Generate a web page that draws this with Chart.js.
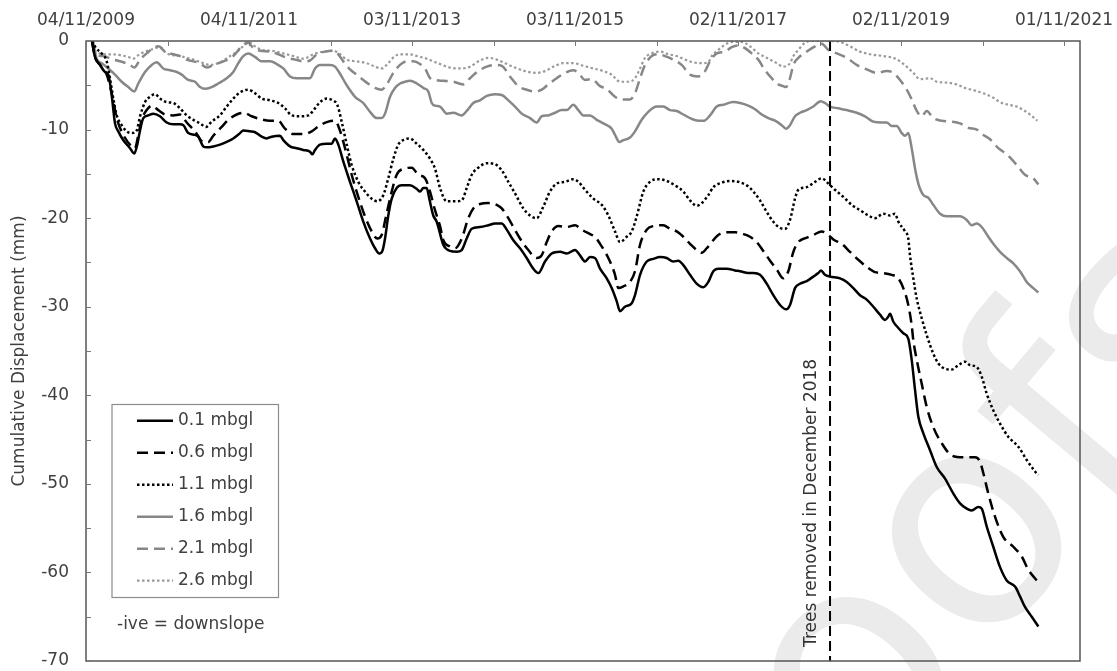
<!DOCTYPE html>
<html>
<head>
<meta charset="utf-8">
<script src="https://cdn.jsdelivr.net/npm/chart.js@4.4.1/dist/chart.umd.min.js"></script>
<style>
html,body{margin:0;padding:0;background:#fff;}
#wrap{width:1117px;height:671px;position:relative;}
</style>
</head>
<body>
<div id="wrap"><canvas id="c" width="1117" height="671"></canvas></div>
<script>
// ---------- DATA (dates as decimal years, displacement in mm) ----------
const startYear = 2009.841;   // 04/11/2009
const endYear = 2022.037;
const xTickLabels = ['04/11/2009','','04/11/2011','','03/11/2013','','03/11/2015','','02/11/2017','','02/11/2019','','01/11/2021'];
const yTickVals = [0,-5,-10,-15,-20,-25,-30,-35,-40,-45,-50,-55,-60,-65,-70];
const seriesNames = ['0.1 mbgl','0.6 mbgl','1.1 mbgl','1.6 mbgl','2.1 mbgl','2.6 mbgl'];
const treesRemovedYear = 2018.97;
const treesLabel = 'Trees removed in December 2018';
const yTitle = 'Cumulative Displacement (mm)';
const noteText = '-ive = downslope';
const watermarkText = 'Journal Pre-proofs';

const t01 = [2009.915,2009.951,2010.013,2010.074,2010.115,2010.156,2010.197,2010.237,2010.299,2010.381,
2010.434,2010.470,2010.504,2010.544,2010.605,2010.667,2010.749,2010.831,2010.912,2010.994,
2011.035,2011.096,2011.178,2011.219,2011.280,2011.322,2011.403,2011.485,2011.567,2011.648,
2011.731,2011.771,2011.853,2011.915,2011.997,2012.058,2012.120,2012.221,2012.262,2012.344,
2012.426,2012.507,2012.589,2012.618,2012.651,2012.712,2012.794,2012.856,2012.896,2012.937,
2012.998,2013.080,2013.162,2013.243,2013.326,2013.387,2013.440,2013.481,2013.510,2013.550,
2013.592,2013.653,2013.715,2013.816,2013.899,2013.939,2013.980,2014.021,2014.053,2014.102,
2014.144,2014.225,2014.307,2014.389,2014.451,2014.512,2014.574,2014.675,2014.777,2014.859,
2014.942,2015.003,2015.084,2015.166,2015.248,2015.329,2015.391,2015.473,2015.555,2015.657,
2015.739,2015.841,2015.902,2015.964,2016.025,2016.086,2016.148,2016.230,2016.291,2016.353,
2016.393,2016.454,2016.537,2016.577,2016.639,2016.721,2016.802,2016.884,2016.966,2017.047,
2017.109,2017.170,2017.252,2017.334,2017.415,2017.477,2017.538,2017.599,2017.702,2017.804,
2017.866,2017.967,2018.029,2018.111,2018.193,2018.274,2018.356,2018.430,2018.479,2018.540,
2018.602,2018.684,2018.765,2018.826,2018.859,2018.908,2018.970,2019.093,2019.175,2019.256,
2019.338,2019.420,2019.501,2019.583,2019.645,2019.685,2019.706,2019.747,2019.808,2019.869,
2019.930,2019.972,2020.013,2020.053,2020.115,2020.197,2020.279,2020.381,2020.483,2020.565,
2020.647,2020.708,2020.789,2020.831,2020.892,2020.973,2021.056,2021.138,2021.240,2021.301,
2021.362,2021.445,2021.526];
const v01 = [0,-1.8,-2.7,-3.5,-3.8,-6.1,-9.3,-10.2,-11.2,-12.1,
-12.7,-11.7,-10.1,-8.7,-8.4,-8.2,-8.5,-9.2,-9.4,-9.4,
-9.5,-10.4,-10.6,-10.8,-11.9,-12.0,-11.9,-11.7,-11.4,-11.0,
-10.4,-10.1,-10.2,-10.3,-10.8,-11.0,-10.8,-10.7,-11.2,-11.9,
-12.1,-12.3,-12.5,-12.8,-12.3,-11.7,-11.6,-11.6,-11.0,-11.7,
-13.6,-15.9,-18.1,-20.4,-22.3,-23.4,-24.0,-23.6,-22.3,-19.7,
-17.8,-16.6,-16.3,-16.3,-16.7,-17.0,-16.6,-16.6,-17.8,-19.7,
-20.4,-23.0,-23.7,-23.8,-23.6,-22.3,-21.2,-21.0,-20.8,-20.6,
-20.6,-21.3,-22.5,-23.4,-24.5,-25.7,-26.2,-24.9,-24.0,-23.8,
-24.0,-23.6,-24.2,-24.9,-24.4,-24.5,-25.7,-26.8,-27.9,-29.4,
-30.5,-30.0,-29.6,-28.7,-26.4,-24.9,-24.6,-24.4,-24.5,-24.9,
-24.8,-25.3,-26.4,-27.4,-27.8,-27.2,-26.0,-25.7,-25.7,-25.9,
-26.0,-26.2,-26.2,-26.4,-27.4,-28.7,-29.8,-30.3,-29.8,-27.9,
-27.4,-27.1,-26.6,-26.2,-25.9,-26.4,-26.6,-26.8,-27.2,-27.9,
-28.7,-29.2,-30.0,-30.9,-31.5,-31.1,-30.8,-31.7,-32.4,-33.0,
-33.6,-36.0,-39.4,-42.4,-44.3,-46.2,-48.1,-49.4,-51.1,-52.2,
-52.8,-53.0,-52.6,-52.8,-54.8,-57.1,-59.4,-60.9,-61.6,-62.7,
-63.9,-65.0,-66.1];

const t06 = [2009.915,2009.951,2010.013,2010.095,2010.156,2010.218,2010.299,2010.402,2010.442,2010.483,
2010.524,2010.586,2010.647,2010.728,2010.810,2010.912,2010.994,2011.077,2011.178,2011.280,
2011.342,2011.403,2011.506,2011.587,2011.690,2011.780,2011.874,2011.976,2012.099,2012.201,
2012.283,2012.385,2012.507,2012.610,2012.712,2012.814,2012.896,2012.949,2013.019,2013.101,
2013.182,2013.264,2013.347,2013.415,2013.469,2013.522,2013.592,2013.653,2013.755,2013.837,
2013.918,2014.001,2014.062,2014.123,2014.185,2014.225,2014.307,2014.369,2014.451,2014.532,
2014.593,2014.675,2014.777,2014.880,2014.942,2015.023,2015.084,2015.166,2015.268,2015.371,
2015.432,2015.494,2015.555,2015.636,2015.739,2015.841,2015.923,2016.025,2016.086,2016.148,
2016.209,2016.270,2016.332,2016.372,2016.434,2016.516,2016.577,2016.639,2016.721,2016.802,
2016.924,2017.007,2017.089,2017.170,2017.252,2017.334,2017.396,2017.457,2017.518,2017.599,
2017.702,2017.804,2017.906,2017.988,2018.070,2018.151,2018.234,2018.316,2018.397,2018.458,
2018.520,2018.581,2018.684,2018.765,2018.868,2018.949,2019.010,2019.113,2019.215,2019.317,
2019.420,2019.522,2019.624,2019.727,2019.808,2019.869,2019.930,2019.972,2019.992,2020.034,
2020.095,2020.156,2020.237,2020.340,2020.463,2020.605,2020.749,2020.810,2020.851,2020.912,
2020.994,2021.096,2021.219,2021.322,2021.403,2021.506];
const v06 = [0,-1.8,-2.7,-3.8,-5.9,-8.7,-10.6,-11.9,-12.1,-10.6,
-8.9,-7.8,-7.3,-7.8,-8.3,-8.4,-8.3,-9.2,-10.2,-11.4,
-11.4,-10.7,-9.7,-8.9,-8.3,-8.1,-8.5,-8.8,-9.0,-9.0,
-9.9,-10.5,-10.5,-10.2,-9.5,-9.1,-9.0,-9.9,-12.1,-15.1,
-17.6,-19.8,-21.5,-22.3,-21.9,-19.8,-17.0,-15.1,-14.4,-14.3,
-15.1,-15.5,-17.0,-19.1,-20.9,-22.5,-23.2,-23.4,-22.3,-20.0,
-18.9,-18.4,-18.3,-18.5,-18.9,-20.0,-21.0,-22.3,-23.6,-24.5,
-24.2,-22.7,-21.5,-20.9,-21.0,-20.8,-21.3,-21.8,-22.1,-22.9,
-23.8,-24.9,-26.4,-27.9,-27.7,-27.2,-26.0,-23.0,-21.3,-20.9,
-20.8,-21.2,-21.5,-22.1,-22.9,-23.6,-23.9,-23.4,-22.7,-21.9,
-21.6,-21.6,-21.8,-22.1,-22.7,-23.7,-24.8,-25.8,-26.8,-26.0,
-23.8,-22.7,-22.2,-21.9,-21.5,-21.9,-22.4,-22.9,-23.8,-24.7,
-25.5,-26.1,-26.2,-26.4,-26.8,-27.9,-29.8,-32.1,-33.8,-36.0,
-38.7,-41.3,-43.6,-45.4,-46.8,-47.0,-47.0,-47.5,-48.8,-51.1,
-53.7,-56.0,-57.1,-58.2,-59.7,-60.9];

const t11 = [2009.915,2009.964,2010.034,2010.095,2010.135,2010.176,2010.218,2010.279,2010.340,2010.402,
2010.463,2010.504,2010.565,2010.626,2010.688,2010.749,2010.831,2010.912,2010.994,2011.077,
2011.158,2011.240,2011.313,2011.383,2011.485,2011.567,2011.648,2011.731,2011.832,2011.915,
2011.997,2012.099,2012.201,2012.283,2012.365,2012.467,2012.569,2012.651,2012.712,2012.794,
2012.868,2012.924,2012.978,2013.040,2013.101,2013.182,2013.264,2013.347,2013.415,2013.489,
2013.550,2013.612,2013.673,2013.755,2013.816,2013.899,2013.980,2014.062,2014.123,2014.185,
2014.267,2014.369,2014.451,2014.512,2014.574,2014.654,2014.758,2014.859,2014.942,2015.023,
2015.105,2015.207,2015.289,2015.371,2015.452,2015.534,2015.616,2015.718,2015.820,2015.882,
2015.964,2016.066,2016.169,2016.250,2016.332,2016.393,2016.475,2016.537,2016.598,2016.679,
2016.761,2016.863,2016.966,2017.068,2017.170,2017.252,2017.334,2017.396,2017.477,2017.538,
2017.641,2017.743,2017.845,2017.948,2018.029,2018.111,2018.193,2018.274,2018.356,2018.418,
2018.479,2018.540,2018.581,2018.684,2018.786,2018.868,2018.949,2019.031,2019.133,2019.236,
2019.338,2019.440,2019.522,2019.624,2019.706,2019.767,2019.808,2019.890,2019.930,2019.951,
2019.992,2020.034,2020.095,2020.156,2020.237,2020.299,2020.381,2020.463,2020.544,2020.626,
2020.688,2020.770,2020.831,2020.892,2020.973,2021.056,2021.158,2021.280,2021.383,2021.485,
2021.526];
const v11 = [0,-0.8,-1.4,-2.3,-4.2,-6.5,-8.4,-9.5,-10.2,-10.4,
-10.1,-8.5,-6.9,-6.3,-6.0,-6.5,-6.9,-7.0,-7.6,-8.4,
-8.9,-9.3,-9.7,-9.1,-8.4,-7.4,-6.5,-5.8,-5.5,-5.9,
-6.5,-6.7,-7.0,-7.6,-8.4,-8.5,-8.4,-7.6,-6.9,-6.5,
-6.7,-7.2,-9.1,-11.7,-14.0,-15.9,-17.0,-17.8,-18.1,-17.4,
-15.5,-13.3,-11.7,-11.1,-11.0,-11.6,-12.3,-13.3,-14.4,-16.6,
-18.1,-18.1,-18.0,-16.6,-15.1,-14.3,-13.8,-13.9,-14.6,-15.9,
-17.2,-18.9,-19.7,-20.0,-18.7,-17.0,-16.1,-15.9,-15.6,-15.9,
-16.8,-17.8,-18.5,-19.7,-21.5,-22.7,-22.1,-21.5,-19.8,-17.0,
-15.9,-15.6,-15.8,-16.3,-17.0,-18.0,-18.6,-18.3,-17.4,-16.5,
-16.0,-15.8,-15.9,-16.3,-17.0,-18.0,-19.3,-20.4,-21.1,-21.2,
-20.2,-17.8,-16.8,-16.5,-15.9,-15.5,-16.1,-16.8,-17.6,-18.5,
-19.1,-19.7,-20.0,-19.5,-19.7,-19.5,-20.4,-21.5,-22.3,-24.2,
-26.8,-29.1,-31.3,-33.2,-35.3,-36.4,-37.0,-37.1,-36.6,-36.2,
-36.6,-36.8,-37.9,-39.8,-41.7,-43.2,-44.7,-45.8,-47.3,-48.6,
-49.0];

const t16 = [2009.927,2009.972,2010.034,2010.115,2010.197,2010.279,2010.360,2010.434,2010.483,2010.565,
2010.647,2010.708,2010.789,2010.872,2010.954,2011.015,2011.096,2011.178,2011.240,2011.301,
2011.383,2011.464,2011.567,2011.648,2011.710,2011.771,2011.832,2011.915,2011.997,2012.099,
2012.181,2012.262,2012.344,2012.426,2012.589,2012.651,2012.712,2012.835,2012.896,2012.958,
2013.040,2013.142,2013.243,2013.326,2013.408,2013.469,2013.510,2013.571,2013.632,2013.694,
2013.755,2013.816,2013.899,2013.980,2014.041,2014.083,2014.123,2014.185,2014.267,2014.348,
2014.451,2014.512,2014.593,2014.675,2014.758,2014.859,2014.942,2015.023,2015.105,2015.187,
2015.289,2015.371,2015.432,2015.513,2015.596,2015.678,2015.739,2015.820,2015.882,2015.943,
2016.025,2016.107,2016.188,2016.291,2016.332,2016.385,2016.434,2016.516,2016.577,2016.659,
2016.740,2016.843,2016.924,2017.007,2017.089,2017.170,2017.273,2017.354,2017.424,2017.497,
2017.580,2017.661,2017.783,2017.866,2017.967,2018.050,2018.132,2018.213,2018.295,2018.377,
2018.430,2018.479,2018.540,2018.602,2018.684,2018.765,2018.856,2018.908,2018.970,2019.072,
2019.175,2019.297,2019.399,2019.501,2019.604,2019.666,2019.727,2019.788,2019.850,2019.890,
2019.930,2019.972,2020.013,2020.053,2020.115,2020.176,2020.237,2020.320,2020.402,2020.565,
2020.647,2020.708,2020.770,2020.831,2020.912,2020.973,2021.056,2021.138,2021.219,2021.301,
2021.383,2021.464,2021.526];
const v16 = [0,-2.0,-2.5,-3.1,-3.8,-4.6,-5.2,-5.7,-4.8,-3.5,
-2.7,-2.4,-3.1,-3.3,-3.5,-3.8,-4.4,-4.6,-5.2,-5.4,
-5.2,-4.8,-4.2,-3.5,-2.5,-1.7,-1.4,-1.8,-2.3,-2.3,
-2.6,-3.1,-4.0,-4.2,-4.2,-3.1,-2.7,-2.7,-2.9,-3.7,
-5.0,-6.3,-7.0,-8.0,-8.7,-8.7,-8.2,-6.3,-5.3,-4.8,
-4.6,-4.5,-4.8,-5.3,-5.7,-7.0,-7.3,-7.4,-8.2,-8.1,
-8.4,-7.9,-7.0,-6.7,-6.2,-6.0,-6.1,-6.7,-7.4,-8.2,
-8.7,-9.2,-8.5,-8.4,-8.1,-7.8,-7.8,-7.2,-7.8,-8.4,
-8.4,-8.9,-9.3,-9.9,-10.6,-11.4,-11.2,-10.9,-10.2,-8.9,
-8.0,-7.4,-7.4,-7.8,-7.9,-8.3,-8.8,-9.0,-9.0,-8.4,
-7.4,-7.2,-6.9,-7.0,-7.3,-7.7,-8.3,-8.7,-9.0,-9.5,
-9.9,-9.5,-8.5,-8.1,-7.8,-7.4,-6.8,-7.0,-7.4,-7.6,
-7.8,-8.1,-8.5,-9.1,-9.2,-9.2,-9.6,-9.6,-10.4,-10.7,
-10.4,-12.1,-14.4,-16.1,-17.4,-17.7,-18.5,-19.5,-19.8,-19.8,
-20.2,-20.8,-20.6,-21.0,-22.1,-22.9,-23.8,-24.5,-25.1,-26.0,
-27.2,-27.9,-28.4];

const t21 = [2009.915,2009.951,2010.053,2010.176,2010.299,2010.381,2010.434,2010.504,2010.586,2010.667,
2010.728,2010.810,2010.912,2010.994,2011.077,2011.158,2011.240,2011.322,2011.403,2011.526,
2011.648,2011.771,2011.832,2011.894,2011.976,2012.099,2012.201,2012.304,2012.405,2012.507,
2012.589,2012.672,2012.774,2012.875,2012.937,2012.998,2013.080,2013.162,2013.285,2013.387,
2013.469,2013.531,2013.612,2013.694,2013.776,2013.857,2013.939,2014.001,2014.062,2014.123,
2014.225,2014.348,2014.470,2014.553,2014.654,2014.758,2014.859,2014.942,2015.043,2015.145,
2015.248,2015.350,2015.432,2015.513,2015.616,2015.718,2015.820,2015.882,2015.964,2016.046,
2016.148,2016.230,2016.332,2016.414,2016.516,2016.577,2016.639,2016.700,2016.782,2016.863,
2016.945,2017.047,2017.150,2017.252,2017.354,2017.436,2017.497,2017.580,2017.681,2017.764,
2017.845,2017.927,2018.009,2018.090,2018.172,2018.254,2018.335,2018.397,2018.430,2018.479,
2018.520,2018.581,2018.684,2018.786,2018.868,2018.949,2019.052,2019.175,2019.297,2019.420,
2019.543,2019.666,2019.747,2019.829,2019.911,2019.972,2020.034,2020.095,2020.156,2020.237,
2020.340,2020.463,2020.565,2020.667,2020.770,2020.851,2020.933,2021.035,2021.138,2021.261,
2021.362,2021.464,2021.526];
const v21 = [0,-1.4,-1.7,-2.1,-2.4,-2.7,-3.0,-2.1,-1.4,-0.8,
-0.6,-1.2,-1.5,-1.7,-2.1,-2.3,-2.5,-3.0,-2.7,-2.3,
-1.7,-0.4,-0.2,-0.8,-1.1,-1.2,-1.5,-1.9,-2.1,-2.3,
-2.2,-1.5,-1.2,-1.1,-1.5,-2.3,-3.2,-3.8,-4.7,-5.3,
-5.5,-4.9,-3.6,-2.7,-2.3,-2.3,-2.6,-3.1,-4.2,-4.4,
-4.5,-4.6,-4.9,-4.2,-3.4,-2.9,-2.7,-2.8,-4.0,-5.1,
-5.5,-5.7,-5.5,-4.9,-4.2,-3.6,-3.3,-3.6,-4.4,-4.3,
-5.1,-5.4,-6.3,-6.6,-6.6,-5.9,-4.2,-2.7,-1.7,-1.5,
-1.7,-2.1,-2.7,-3.8,-4.0,-3.4,-2.3,-1.4,-1.2,-0.7,
-0.5,-0.8,-1.4,-2.1,-3.3,-4.2,-4.9,-5.1,-5.2,-4.2,
-2.7,-1.9,-1.2,-0.6,-0.3,-1.0,-1.4,-1.9,-2.7,-3.2,
-3.6,-3.4,-3.6,-4.4,-5.5,-6.6,-7.9,-8.5,-7.9,-8.7,
-9.0,-9.1,-9.3,-9.8,-10.0,-10.6,-11.1,-12.1,-12.8,-14.0,
-15.1,-15.5,-16.2];

const t26 = [2009.915,2009.951,2010.013,2010.095,2010.176,2010.258,2010.360,2010.421,2010.483,2010.565,
2010.667,2010.749,2010.831,2010.994,2011.158,2011.280,2011.362,2011.485,2011.608,2011.710,
2011.792,2011.853,2011.915,2011.997,2012.120,2012.262,2012.385,2012.507,2012.630,2012.753,
2012.875,2012.958,2013.040,2013.162,2013.285,2013.387,2013.469,2013.550,2013.632,2013.734,
2013.816,2013.899,2014.021,2014.102,2014.185,2014.307,2014.430,2014.553,2014.675,2014.777,
2014.880,2014.982,2015.105,2015.228,2015.371,2015.473,2015.596,2015.697,2015.820,2015.943,
2016.066,2016.188,2016.291,2016.393,2016.495,2016.577,2016.639,2016.700,2016.782,2016.884,
2016.986,2017.089,2017.191,2017.292,2017.396,2017.477,2017.518,2017.599,2017.702,2017.783,
2017.886,2017.988,2018.090,2018.193,2018.316,2018.397,2018.479,2018.520,2018.581,2018.663,
2018.765,2018.868,2018.970,2019.093,2019.215,2019.338,2019.461,2019.624,2019.747,2019.829,
2019.911,2019.992,2020.074,2020.197,2020.279,2020.402,2020.524,2020.626,2020.749,2020.851,
2020.973,2021.056,2021.158,2021.261,2021.342,2021.424,2021.513];
const v26 = [0,-1.2,-1.4,-1.5,-1.5,-1.6,-1.8,-2.0,-1.6,-1.2,
-0.9,-0.7,-1.4,-1.7,-2.1,-2.5,-2.7,-2.4,-1.7,-1.1,
-0.4,-0.2,-0.6,-1.0,-1.1,-1.4,-1.7,-2.0,-1.5,-1.2,
-1.1,-1.5,-2.1,-2.3,-2.5,-2.9,-3.1,-2.5,-1.7,-1.5,
-1.5,-1.7,-2.0,-2.3,-2.6,-3.0,-3.1,-2.9,-2.2,-1.9,
-2.1,-2.5,-3.0,-3.4,-3.6,-3.4,-2.8,-2.5,-2.5,-2.8,
-3.1,-3.4,-3.8,-4.6,-4.6,-4.2,-3.1,-1.9,-1.4,-1.2,
-1.5,-1.7,-2.1,-2.4,-2.5,-2.4,-1.7,-1.0,-0.3,-0.1,
-0.1,-0.6,-1.4,-1.9,-2.5,-2.9,-2.5,-1.7,-1.0,-0.2,
0,0,0,-0.1,-0.6,-1.2,-1.5,-1.7,-1.9,-2.3,
-2.9,-3.6,-4.3,-4.2,-4.6,-4.7,-4.9,-5.3,-5.6,-5.9,
-6.4,-6.9,-7.2,-7.4,-7.8,-8.3,-9.0];

// ---------- STYLES ----------
const FONT = "'DejaVu Sans', Verdana, sans-serif";
const TXT = '#404040';
const GREY = '#878787';
const styles = [
  {color:'#000000', width:2.5, dash:[]},
  {color:'#000000', width:2.5, dash:[11,6]},
  {color:'#000000', width:2.5, dash:[2.5,2.5]},
  {color:GREY, width:2.5, dash:[]},
  {color:GREY, width:2.5, dash:[11,6]},
  {color:'#9a9a9a', width:2.2, dash:[2.5,2.5]}
];
const xs = [t01,t06,t11,t16,t21,t26];
const ys = [v01,v06,v11,v16,v21,v26];

const datasets = seriesNames.map((name,k) => ({
  label: name,
  data: xs[k].map((x,i) => ({x: x, y: ys[k][i]})),
  borderColor: styles[k].color,
  borderWidth: styles[k].width,
  borderDash: styles[k].dash,
  borderCapStyle: 'butt',
  pointRadius: 0,
  fill: false,
  cubicInterpolationMode: 'monotone'
}));

const decor = {
  id: 'decor',
  beforeDraw(chart) {
    const ctx = chart.ctx;
    ctx.save();
    ctx.fillStyle = '#ffffff';
    ctx.fillRect(0,0,chart.width,chart.height);
    // watermark
    const fs = 300;
    ctx.font = fs + 'px ' + FONT;
    ctx.fillStyle = '#ebebeb';
    const before = 'Journal Pre-pro';
    const a = ctx.measureText(before).width + ctx.measureText('o').width/2;
    ctx.translate(975, 538);
    ctx.rotate(-50*Math.PI/180);
    ctx.textBaseline = 'alphabetic';
    ctx.textAlign = 'left';
    ctx.fillText(watermarkText, -a, 0.28*fs);
    ctx.restore();
  },
  afterDatasetsDraw(chart) {
    const ctx = chart.ctx;
    const ca = chart.chartArea;
    const xS = chart.scales.x, yS = chart.scales.y;
    ctx.save();
    // trees removed line
    const xv = xS.getPixelForValue(treesRemovedYear);
    ctx.strokeStyle = '#000';
    ctx.lineWidth = 2;
    ctx.setLineDash([10,5]);
    ctx.beginPath(); ctx.moveTo(xv, ca.top); ctx.lineTo(xv, ca.bottom); ctx.stroke();
    ctx.setLineDash([]);
    // plot border
    ctx.strokeStyle = '#555555';
    ctx.lineWidth = 1.5;
    ctx.strokeRect(ca.left, ca.top, ca.right-ca.left, ca.bottom-ca.top);
    // inward tick marks
    ctx.lineWidth = 1;
    ctx.strokeStyle = '#777777';
    ctx.beginPath();
    xS.ticks.forEach(t => { const px = Math.round(xS.getPixelForValue(t.value))+0.5; ctx.moveTo(px, ca.top); ctx.lineTo(px, ca.top+5); });
    yS.ticks.forEach(t => { const py = Math.round(yS.getPixelForValue(t.value))+0.5; ctx.moveTo(ca.left, py); ctx.lineTo(ca.left+5, py); });
    ctx.stroke();
    // rotated label near line
    ctx.fillStyle = '#333333';
    ctx.font = '17px ' + FONT;
    ctx.save();
    ctx.translate(xv - 14, ca.bottom - 14);
    ctx.rotate(-Math.PI/2);
    ctx.textAlign = 'left'; ctx.textBaseline = 'alphabetic';
    ctx.fillText(treesLabel, 0, 0);
    ctx.restore();
    // y axis title
    ctx.save();
    ctx.fillStyle = TXT;
    ctx.translate(20, (ca.top+ca.bottom)/2);
    ctx.rotate(-Math.PI/2);
    ctx.textAlign = 'center'; ctx.textBaseline = 'middle';
    ctx.fillText(yTitle, 0, 0);
    ctx.restore();
    // legend box
    const lx = 112, ly = 404.5, lw = 166.5, lh = 193;
    ctx.fillStyle = '#ffffff';
    ctx.fillRect(lx, ly, lw, lh);
    ctx.strokeStyle = '#8c8c8c';
    ctx.lineWidth = 1.2;
    ctx.strokeRect(lx, ly, lw, lh);
    chart.data.datasets.forEach((ds, i) => {
      const cy = 420.7 + 32*i;
      ctx.strokeStyle = ds.borderColor;
      ctx.lineWidth = ds.borderWidth;
      ctx.setLineDash(ds.borderDash);
      ctx.beginPath(); ctx.moveTo(137, cy); ctx.lineTo(173, cy); ctx.stroke();
      ctx.setLineDash([]);
      ctx.fillStyle = TXT;
      ctx.textAlign = 'left'; ctx.textBaseline = 'middle';
      ctx.fillText(ds.label, 178, cy);
    });
    // note
    ctx.fillStyle = TXT;
    ctx.textAlign = 'left'; ctx.textBaseline = 'middle';
    ctx.fillText(noteText, 117, 625);
    ctx.restore();
  }
};

new Chart(document.getElementById('c'), {
  type: 'line',
  data: { datasets: datasets },
  options: {
    responsive: false,
    animation: false,
    devicePixelRatio: 1,
    layout: { padding: { left: 0, top: 0, right: 37, bottom: 10 } },
    plugins: { legend: { display: false }, tooltip: { enabled: false } },
    scales: {
      x: {
        type: 'linear',
        position: 'top',
        min: startYear,
        max: endYear,
        grid: { display: false, drawTicks: false },
        border: { display: false },
        afterBuildTicks: s => { s.ticks = xTickLabels.map((_, k) => ({ value: startYear + k })); },
        afterFit: s => { s.height = 41; s.paddingLeft = 0; s.paddingRight = 0; },
        ticks: {
          autoSkip: false, maxRotation: 0, minRotation: 0, padding: 10,
          color: TXT, font: { family: FONT, size: 17 },
          callback: (v, i) => xTickLabels[i] || ''
        }
      },
      y: {
        type: 'linear',
        min: -70, max: 0,
        grid: { display: false, drawTicks: false },
        border: { display: false },
        afterBuildTicks: s => { s.ticks = yTickVals.map(v => ({ value: v })); },
        afterFit: s => { s.width = 86; s.paddingTop = 0; s.paddingBottom = 0; },
        ticks: {
          autoSkip: false, padding: 17,
          color: TXT, font: { family: FONT, size: 17 },
          callback: v => (v % 10 === 0 ? String(v) : '')
        }
      }
    }
  },
  plugins: [decor]
});
</script>
</body>
</html>
